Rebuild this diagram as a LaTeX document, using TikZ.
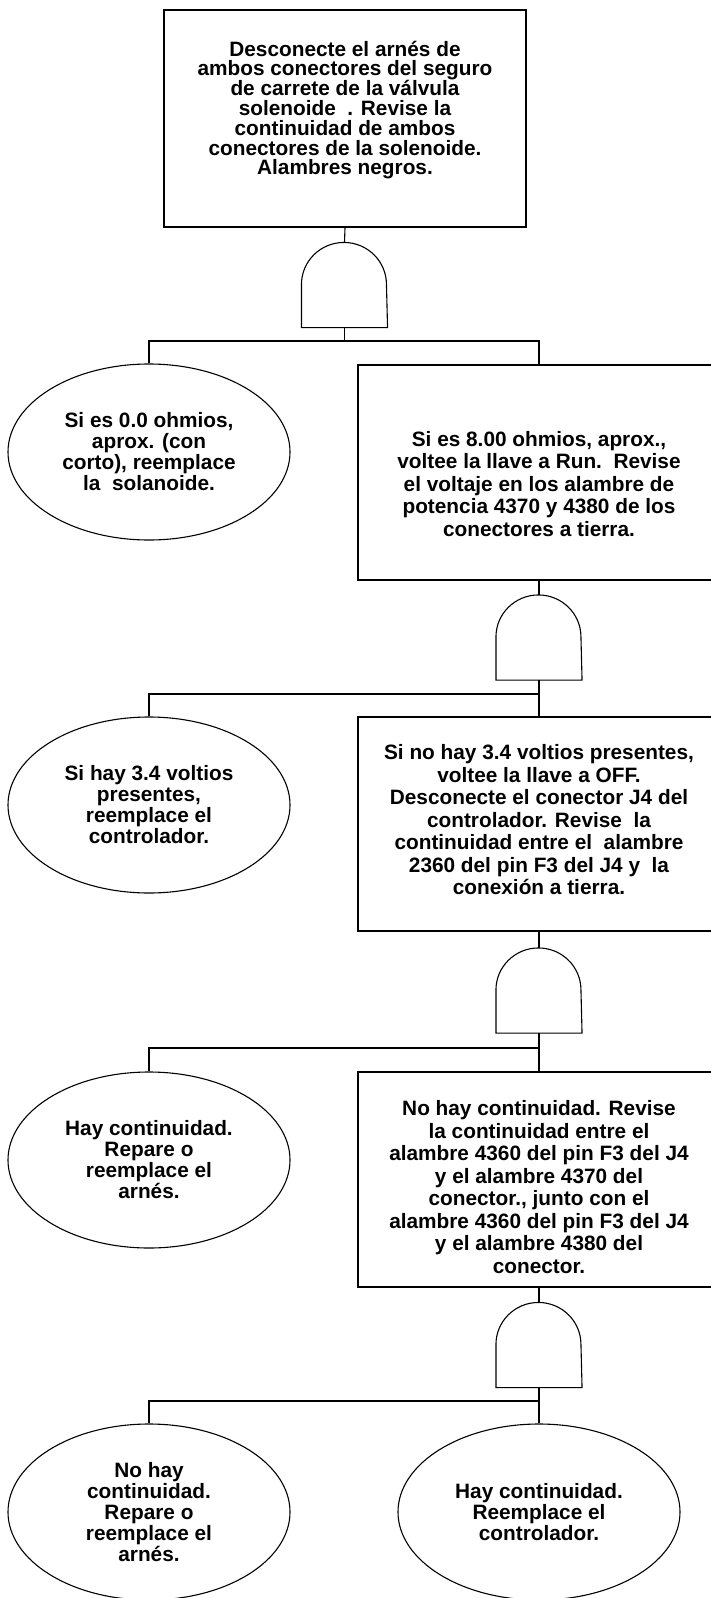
\documentclass[tikz,border=0pt]{standalone}
\usepackage{fontspec}
\setmainfont{Liberation Sans}
\usetikzlibrary{shapes.geometric}
\begin{document}
\begin{tikzpicture}[x=1pt,y=1pt,line width=1.1pt,
  box/.style={draw,rectangle,inner sep=0pt,minimum width=362pt},
  txt/.style={align=center,inner sep=0pt,font=\bfseries\fontsize{20.8}{22.5}\selectfont},
  ell/.style={draw,ellipse,inner sep=0pt,minimum width=282pt,minimum height=176pt,align=center,font=\bfseries\fontsize{20.8}{21}\selectfont},
  gate/.style={rectangle,draw=none,inner sep=0pt,minimum width=85pt,minimum height=84pt}]
\useasboundingbox (0,0) rectangle (710,-1598);
\fill[white] (0,0) rectangle (710,-1598);
% top
\node[box,minimum height=217pt] (top) at (345,-118.5) {};
\node[txt,font=\bfseries\fontsize{20.8}{19.8}\selectfont] (ttop) at (345,-110) {Desconecte el arnés de\\ambos conectores del seguro\\de carrete de la válvula\\solenoide\ \ . Revise la\\continuidad de ambos\\conectores de la solenoide.\\Alambres negros.};
\node[gate] (g1) at (344.5,-285) {};
\coordinate (j1) at (344.5,-341);
% level 1
\node[ell] (e1) at (149,-452) {Si es 0.0 ohmios,\\aprox. (con\\corto), reemplace\\la\ \ solanoide.};
\node[box,minimum height=215pt] (r1) at (539,-472.5) {};
\node[txt] (tr1) at (539,-484) {Si es 8.00 ohmios, aprox.,\\voltee la llave a Run.\ \ Revise\\el voltaje en los alambre de\\potencia 4370 y 4380 de los\\conectores a tierra.};
\node[gate] (g2) at (539,-637.5) {};
\coordinate (j2) at (539,-694);
% level 2
\node[ell] (e2) at (149,-805) {Si hay 3.4 voltios\\presentes,\\reemplace el\\controlador.};
\node[box,minimum height=214pt] (r2) at (539,-824) {};
\node[txt] (tr2) at (539,-820) {Si no hay 3.4 voltios presentes,\\voltee la llave a OFF.\\Desconecte el conector J4 del\\controlador. Revise\ \ la\\continuidad entre el\ \ alambre\\2360 del pin F3 del J4 y\ \ la\\conexión a tierra.};
\node[gate] (g3) at (539,-990.5) {};
\coordinate (j3) at (539,-1048);
% level 3
\node[ell] (e3) at (149,-1160) {Hay continuidad.\\Repare o\\reemplace el\\arnés.};
\node[box,minimum height=215pt] (r3) at (539,-1179.5) {};
\node[txt] (tr3) at (539,-1187) {No hay continuidad. Revise\\la continuidad entre el\\alambre 4360 del pin F3 del J4\\y el alambre 4370 del\\conector., junto con el\\alambre 4360 del pin F3 del J4\\y el alambre 4380 del\\conector.};
\node[gate] (g4) at (539,-1345) {};
\coordinate (j4) at (539,-1401);
% level 4
\node[ell] (e4) at (149,-1512) {No hay\\continuidad.\\Repare o\\reemplace el\\arnés.};
\node[ell] (e5) at (539,-1512) {Hay continuidad.\\Reemplace el\\controlador.};
% gates
\foreach \g in {g1,g2,g3,g4}{
  \draw (\g.south west) -- ([yshift=-42pt]\g.north west)
    arc[start angle=180,end angle=0,x radius=42.5pt,y radius=42pt]
    -- (\g.south east) -- cycle;}
% connectors
\draw (top.south) -- (g1.north);
\draw (g1.south) -- (j1);
\draw (e1.north) |- (j1) -| (r1.north);
\draw (r1.south) -- (g2.north);
\draw (g2.south) -- (r2.north);
\draw (e2.north) |- (j2);
\draw (r2.south) -- (g3.north);
\draw (g3.south) -- (r3.north);
\draw (e3.north) |- (j3);
\draw (r3.south) -- (g4.north);
\draw (g4.south) -- (e5.north);
\draw (e4.north) |- (j4);
\end{tikzpicture}
\end{document}
